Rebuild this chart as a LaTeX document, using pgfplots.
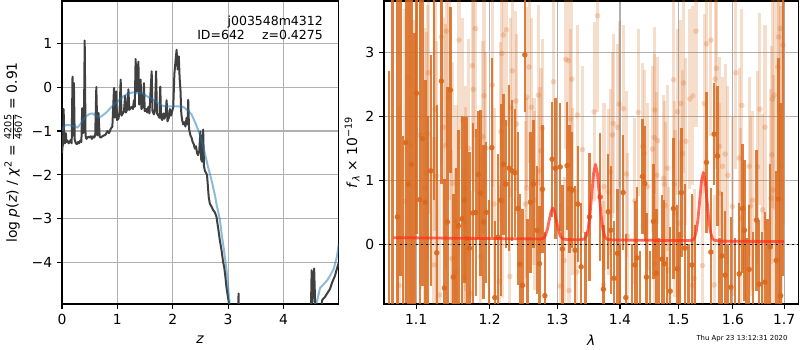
\documentclass[border=0pt]{standalone}
\usepackage{fontspec}
\setmainfont{DejaVu Sans}
\usepackage{pgfplots}
\pgfplotsset{compat=1.18}
\usepackage{pgfplotstable}
\definecolor{orC}{RGB}{216,104,28}
\definecolor{gridC}{RGB}{176,176,176}
\definecolor{pzC}{RGB}{64,64,64}
\definecolor{chiC}{RGB}{31,119,180}
\definecolor{modC}{RGB}{255,45,25}

\pgfplotstableread{
x y e
1.0650 -1.30 4.00
1.0700 4.20 5.50
1.0759 0.43 3.50
1.0800 4.50 5.00
1.0835 -1.50 3.20
1.0867 1.59 2.50
1.0900 0.94 3.00
1.0939 1.25 2.80
1.0980 -1.20 4.50
1.1005 2.36 2.20
1.1048 0.70 3.20
1.1082 1.65 2.30
1.1122 0.66 1.90
1.1160 -1.40 3.40
1.1193 1.15 1.80
1.1235 4.20 3.50
1.1273 -0.13 2.30
1.1334 2.55 1.60
1.1374 -0.68 1.70
1.1415 0.35 2.10
1.1455 2.41 1.30
1.1496 -0.51 1.30
1.1530 -1.30 2.50
1.1564 0.29 1.50
1.1611 0.40 1.60
1.1647 0.69 1.30
1.1680 0.09 1.90
1.1716 -0.06 1.50
1.1763 0.49 1.40
1.1805 0.50 1.30
1.1841 1.09 1.00
1.1869 0.80 1.30
1.1911 0.35 1.20
1.1950 0.50 1.10
1.1990 -1.20 1.90
1.2030 1.51 1.40
1.2073 -0.83 1.20
1.2116 0.11 1.30
1.2159 0.69 1.50
1.2197 1.25 1.10
1.2231 0.94 1.00
1.2279 1.19 1.30
1.2318 1.15 1.10
1.2362 1.12 1.00
1.2406 0.56 1.20
1.2436 -0.31 1.10
1.2474 -0.64 1.20
1.2509 2.96 0.90
1.2550 -1.10 1.50
1.2592 0.66 1.10
1.2637 0.94 1.00
1.2688 0.22 1.00
1.2727 -0.30 0.90
1.2772 0.86 1.00
1.2810 -0.80 1.00
1.2920 1.33 0.90
1.2970 1.19 1.10
1.3043 1.21 1.00
1.3078 -0.07 1.00
1.3151 1.23 1.00
1.3187 0.87 1.00
1.3229 0.85 0.90
1.3276 -0.09 1.00
1.3319 0.63 0.90
1.3371 -0.35 1.00
1.3440 -1.00 1.20
1.3503 0.43 1.00
1.3675 0.74 1.00
1.3728 -0.70 1.00
1.3805 0.51 0.90
1.3849 0.22 1.00
1.3903 -0.53 0.90
1.3957 -0.14 1.00
1.4000 -1.10 1.10
1.4052 0.81 0.90
1.4097 -0.83 1.00
1.4200 -1.20 1.20
1.4248 -0.32 1.00
1.4281 -0.21 1.10
1.4330 -1.10 1.00
1.4376 1.06 0.90
1.4417 0.95 0.90
1.4445 -0.51 1.00
1.4500 -1.20 1.10
1.4565 0.36 0.90
1.4616 -0.45 1.00
1.4660 -1.00 1.10
1.4710 -0.23 1.00
1.4750 -0.30 1.00
1.4800 -1.20 1.00
1.4855 -0.73 1.00
1.4913 0.56 1.10
1.4979 -0.38 1.00
1.5020 -1.00 1.20
1.5055 0.81 1.00
1.5116 -0.06 1.00
1.5180 -1.10 1.10
1.5241 -0.32 1.10
1.5300 -1.00 1.30
1.5507 1.28 1.10
1.5588 -0.12 1.00
1.5649 1.72 0.80
1.5710 1.38 1.10
1.5750 -1.10 1.20
1.5792 -0.18 1.00
1.5854 -0.48 1.00
1.5900 -1.20 1.20
1.5961 -0.67 1.10
1.6040 -1.10 1.20
1.6119 -0.46 1.10
1.6182 0.56 1.00
1.6220 0.22 1.10
1.6260 -1.10 1.20
1.6310 -0.39 1.00
1.6380 -1.00 1.20
1.6452 0.38 1.10
1.6504 -0.62 1.00
1.6560 -1.10 1.30
1.6616 -0.59 1.10
1.6670 -1.00 1.40
1.6721 -0.04 1.30
1.6840 -0.25 1.40
1.6886 0.71 2.20
1.6930 -0.80 3.00
1.6975 4.00 4.50
}\darkdata

\pgfplotstableread{
x y e
1.0781 -0.64 2.8
1.0858 0.67 3.0
1.0900 2.61 2.5
1.0931 1.54 2.8
1.0961 0.91 2.6
1.1056 1.71 2.4
1.1114 0.88 2.5
1.1135 1.11 2.2
1.1148 1.73 2.0
1.1161 2.68 2.2
1.1237 -0.32 2.0
1.1250 2.11 1.9
1.1273 1.07 2.1
1.1313 -0.79 1.8
1.1334 3.24 2.0
1.1361 1.83 1.7
1.1384 1.54 1.9
1.1401 3.33 1.8
1.1438 2.30 1.6
1.1476 -0.22 1.7
1.1483 0.95 1.9
1.1521 -0.43 1.6
1.1533 0.37 1.8
1.1574 3.19 1.7
1.1625 1.94 1.6
1.1640 -0.52 1.7
1.1657 0.34 1.8
1.1661 0.88 1.6
1.1708 1.50 1.7
1.1735 -0.77 1.6
1.1757 2.79 1.8
1.1770 2.42 1.6
1.1799 3.37 1.7
1.1869 -0.19 1.6
1.1907 1.68 1.5
1.1921 2.32 1.6
1.1945 1.50 1.5
1.2039 2.49 1.6
1.2063 0.63 1.5
1.2135 -0.58 1.5
1.2174 2.98 1.5
1.2160 1.76 1.4
1.2182 0.67 1.5
1.2197 3.27 1.4
1.2240 3.35 1.5
1.2304 2.14 1.4
1.2290 -0.50 1.4
1.2327 2.71 1.5
1.2377 2.24 1.4
1.2390 1.88 1.4
1.2515 0.63 1.3
1.2535 0.88 1.4
1.2539 2.30 1.4
1.2573 2.77 1.5
1.2607 2.14 1.4
1.2647 0.98 1.3
1.2658 0.69 1.4
1.2712 2.33 1.4
1.2736 1.15 1.3
1.2750 1.46 1.3
1.2772 1.81 1.4
1.2940 2.54 1.4
1.3043 -0.65 1.3
1.3105 -0.25 1.3
1.3131 2.89 1.4
1.3171 2.87 1.4
1.3180 -0.72 1.3
1.3203 1.96 1.4
1.3224 2.58 1.4
1.3232 0.83 1.3
1.3303 -0.43 1.3
1.3312 2.02 1.4
1.3391 1.48 1.3
1.3578 2.07 1.4
1.3631 3.57 1.5
1.3728 -0.63 1.3
1.3739 0.90 1.3
1.3805 0.82 1.3
1.3837 1.13 1.3
1.3875 1.71 1.3
1.3892 1.89 1.4
1.3957 1.83 1.3
1.3986 2.19 1.3
1.4057 2.12 1.3
1.4107 1.10 1.3
1.4123 0.13 1.3
1.4248 0.68 1.3
1.4308 2.06 1.3
1.4376 1.53 1.3
1.4405 1.42 1.3
1.4462 0.90 1.3
1.4548 1.49 1.3
1.4577 1.67 1.3
1.4590 -0.30 1.3
1.4585 2.10 1.3
1.4623 1.08 1.3
1.4634 1.62 1.3
1.4738 1.03 1.3
1.4750 0.94 1.3
1.4768 0.61 1.3
1.4808 1.19 1.3
1.4820 -0.40 1.3
1.4913 2.57 1.4
1.4926 0.94 1.3
1.4940 0.48 1.3
1.4984 2.07 1.3
1.5014 0.33 1.3
1.5044 2.20 1.3
1.5073 1.42 1.3
1.5091 2.52 1.4
1.5134 1.61 1.3
1.5205 2.27 1.4
1.5252 -0.64 1.4
1.5259 2.32 1.4
1.5283 -0.53 1.4
1.5314 3.33 1.5
1.5434 -0.33 1.4
1.5465 2.20 1.4
1.5507 3.13 1.5
1.5588 3.19 1.5
1.5649 -0.63 1.4
1.5667 2.58 1.4
1.5691 2.75 1.4
1.5742 1.53 1.4
1.5755 0.80 1.4
1.5803 1.22 1.4
1.5854 1.41 1.4
1.5904 1.08 1.4
1.5991 0.59 1.4
1.6056 2.68 1.5
1.6119 1.35 1.4
1.6151 0.41 1.4
1.6170 2.17 1.5
1.6310 1.22 1.4
1.6343 0.60 1.4
1.6374 0.69 1.4
1.6471 1.21 1.5
1.6518 2.11 1.5
1.6569 0.54 1.5
1.6616 1.83 1.6
1.6734 0.72 1.7
1.6766 2.27 1.7
1.6750 1.40 1.7
1.6780 0.85 1.8
1.6800 2.33 1.8
1.6874 2.77 2.0
1.6886 3.24 2.2
1.6920 3.37 2.5
1.6935 1.22 2.5
1.6980 3.11 2.8
}\lightdata

\pgfplotsset{
  mystyle/.style={
    scale only axis, height=303pt, anchor=south west,
    tick align=outside, xtick pos=bottom, ytick pos=left,
    major tick length=4.9pt,
    tick style={black, line width=1.1pt},
    grid=major, grid style={gridC, line width=1.1pt},
    axis line style={line width=1.1pt},
    tick label style={font=\fontsize{13.9}{16}\selectfont},
    xticklabel style={inner sep=0pt, yshift=-4.8pt},
    yticklabel style={inner sep=0pt, xshift=-4.8pt},
    /pgf/number format/assume math mode=true,
    clip marker paths=true,
    label style={font=\fontsize{13.9}{16}\selectfont},
  }
}

\begin{document}
\begin{tikzpicture}
\path[use as bounding box] (0,0) rectangle (800pt,350pt);

\begin{axis}[mystyle, at={(62pt,46pt)}, width=276.5pt,
  xmin=0, xmax=4.995, ymin=-4.94, ymax=1.96,
  xtick={0,1,2,3,4}, xticklabels={0,1,2,3,4},
  ytick={-4,-3,-2,-1,0,1}, yticklabels={−4,−3,−2,−1,0,1},
  unbounded coords=jump,
  xlabel={\textit{z}},
  xlabel style={at={(axis description cs:0.5,-0.119)}, anchor=center},
  ylabel={log \textit{p}(\textit{z}) / \textit{χ}\textsuperscript{2} = \ensuremath{\frac{\hbox{\fontsize{9.7}{10}\selectfont 4205}}{\hbox{\fontsize{9.7}{10}\selectfont 4607}}} = 0.91},
  ylabel style={at={(axis description cs:-0.177,0.5)}, anchor=center},
]
\addplot[pzC, line width=2pt, line join=round] coordinates {
(0.000,-1.50) (0.010,-1.35) (0.020,-1.30) (0.030,-0.50) (0.040,-1.25) (0.055,-1.28)
(0.070,-1.05) (0.080,-1.25) (0.100,-1.22) (0.120,-1.28) (0.140,-1.25) (0.160,-1.20)
(0.175,-1.28) (0.190,0.24) (0.205,-1.10) (0.215,0.09) (0.230,-1.20) (0.250,-1.28)
(0.270,-1.30) (0.290,-1.25) (0.310,-1.28) (0.330,-1.22) (0.350,-1.25) (0.365,-0.48)
(0.380,-1.05) (0.395,-1.00) (0.410,1.06) (0.425,-1.10) (0.440,-1.18) (0.460,-1.15)
(0.480,-1.13) (0.500,-1.15) (0.520,-1.12) (0.540,-1.18) (0.560,-1.12) (0.580,-1.15)
(0.600,-1.10) (0.620,0.00) (0.640,-1.10) (0.660,-0.59) (0.680,-1.13) (0.700,-1.15)
(0.730,-1.12) (0.760,-1.10) (0.790,-1.08) (0.820,-1.00) (0.850,-1.05) (0.880,-0.95)
(0.910,-0.90) (0.925,-0.45) (0.940,-0.02) (0.955,-0.70) (0.980,-0.10) (0.995,-0.75)
(1.020,-0.72) (1.040,-0.55) (1.060,0.17) (1.075,-0.65) (1.100,-0.60) (1.120,-0.55)
(1.140,-0.20) (1.155,-0.58) (1.180,-0.50) (1.200,-0.05) (1.215,-0.52) (1.240,-0.48)
(1.260,-0.45) (1.280,-0.50) (1.300,-0.30) (1.315,-0.45) (1.330,0.64) (1.350,-0.10)
(1.380,0.58) (1.395,-0.40) (1.420,0.17) (1.435,-0.50) (1.460,-0.45) (1.480,0.09)
(1.495,-0.55) (1.520,-0.50) (1.540,-0.58) (1.560,-0.45) (1.580,-0.60) (1.600,-0.10)
(1.620,0.36) (1.635,-0.55) (1.660,-0.62) (1.680,-0.50) (1.700,0.36) (1.715,-0.60)
(1.740,-0.65) (1.760,-0.70) (1.775,0.01) (1.790,-0.70) (1.810,-0.75) (1.830,-0.60)
(1.850,-0.72) (1.870,-0.65) (1.890,-0.30) (1.905,-0.78) (1.930,-0.70) (1.950,-0.50)
(1.970,-0.65) (1.990,-0.55) (2.010,-0.45) (2.030,0.30) (2.045,0.51) (2.070,0.85)
(2.090,0.40) (2.110,0.70) (2.125,0.20) (2.140,-0.06) (2.155,-0.60) (2.170,-0.75)
(2.190,-0.85) (2.210,-0.80) (2.230,-0.90) (2.250,-0.70) (2.270,-0.85) (2.280,-0.29)
(2.295,-0.95) (2.320,-1.10) (2.340,-1.15) (2.360,-1.25) (2.380,-1.30) (2.400,-1.40)
(2.420,-1.35) (2.440,-1.50) (2.460,-1.55) (2.480,-1.45) (2.500,-1.01) (2.515,-1.65)
(2.530,-1.70) (2.550,-0.97) (2.565,-1.80) (2.580,-1.90) (2.600,-1.95) (2.620,-2.00)
(2.650,-2.50) (2.670,-2.65) (2.700,-2.72) (2.730,-2.80) (2.760,-2.85) (2.790,-2.95)
(2.820,-3.20) (2.850,-3.48) (2.880,-3.70) (2.910,-3.98) (2.930,-4.10) (2.950,-4.30)
(2.970,-4.55) (3.000,-4.80) (3.020,-4.95) (3.040,-5.50)
(3.100,nan)
(3.170,-5.50) (3.190,-4.70) (3.200,-5.50)
(3.300,nan)
(4.490,-5.50) (4.510,-4.17) (4.525,-4.90) (4.540,-4.50) (4.555,-4.13) (4.570,-4.80)
(4.585,-5.50)
(4.620,nan)
(4.640,-5.50) (4.700,-4.85) (4.750,-4.78) (4.800,-4.68) (4.840,-4.60) (4.880,-4.45)
(4.930,-4.30) (4.970,-4.12) (5.000,-4.00)
};
\addplot[chiC, opacity=0.5, line width=2pt] coordinates {
(0.00,-1.01) (0.03,-0.90) (0.08,-0.86) (0.15,-0.87) (0.22,-0.90) (0.28,-0.92)
(0.33,-0.85) (0.38,-0.75) (0.44,-0.66) (0.50,-0.61) (0.55,-0.60) (0.62,-0.66)
(0.68,-0.69) (0.74,-0.64) (0.80,-0.58) (0.88,-0.47) (0.98,-0.35) (1.07,-0.25)
(1.16,-0.17) (1.22,-0.14) (1.29,-0.12) (1.36,-0.14) (1.42,-0.14) (1.47,-0.16)
(1.55,-0.22) (1.65,-0.29) (1.73,-0.36) (1.80,-0.42) (1.90,-0.44) (2.01,-0.44)
(2.10,-0.44) (2.19,-0.45) (2.26,-0.52) (2.34,-0.62) (2.42,-0.85) (2.49,-1.08)
(2.54,-1.30) (2.58,-1.50) (2.63,-1.78) (2.67,-1.97) (2.72,-2.22) (2.76,-2.45)
(2.80,-2.72) (2.85,-3.00) (2.89,-3.40) (2.93,-3.75) (2.97,-4.15) (3.00,-4.55)
(3.03,-4.95) (3.05,-5.30)
(3.50,nan)
(4.55,-5.30) (4.60,-4.92) (4.66,-4.58) (4.72,-4.50) (4.79,-4.40) (4.85,-4.28)
(4.91,-4.13) (4.96,-3.90) (5.00,-3.58)
};
\node[anchor=north east, align=right, inner sep=0pt, font=\fontsize{12.5}{14.2}\selectfont]
  at (axis description cs:0.944,0.952) {j003548m4312\\ID=642\hspace{1.05em} z=0.4275};
\end{axis}

\begin{axis}[mystyle, at={(384pt,46pt)}, width=414.5pt,
  xmode=log, log basis x=10,
  xmin=1.0591, xmax=1.729, ymin=-0.93, ymax=3.80,
  xtick={1.1,1.2,1.3,1.4,1.5,1.6,1.7}, xticklabels={1.1,1.2,1.3,1.4,1.5,1.6,1.7},
  minor xtick={},
  ytick={0,1,2,3}, yticklabels={0,1,2,3},
  xlabel={\textit{λ}},
  xlabel style={at={(axis description cs:0.5,-0.119)}, anchor=center},
  ylabel={\textit{f}\textsubscript{\textit{λ}} × 10\textsuperscript{−19}},
  ylabel style={at={(axis description cs:-0.077,0.5)}, anchor=center},
]
\addplot[orC, only marks, mark=*, mark size=2.8pt,
  mark options={solid, fill=orC, draw opacity=0, fill opacity=0.25},
  error bars/.cd, y dir=both, y explicit, error mark=none,
  error bar style={draw=orC, line width=3.2pt, opacity=0.22}]
  table[x=x, y=y, y error=e] {\lightdata};
\addplot[orC, only marks, mark=*, mark size=2.8pt,
  mark options={solid, fill=orC, draw opacity=0, fill opacity=0.9},
  error bars/.cd, y dir=both, y explicit, error mark=none,
  error bar style={draw=orC, line width=2.4pt, opacity=0.85}]
  table[x=x, y=y, y error=e] {\darkdata};
\addplot[modC, opacity=0.7, line width=2.8pt, line join=round] coordinates {
(1.0709,0.105) (1.1000,0.102) (1.1500,0.097) (1.2000,0.092) (1.2500,0.087)
(1.2765,0.085) (1.2793,0.101) (1.2820,0.146) (1.2848,0.239) (1.2875,0.377)
(1.2903,0.512) (1.2930,0.570) (1.2958,0.512) (1.2985,0.377) (1.3013,0.239)
(1.3040,0.146) (1.3068,0.101) (1.3095,0.085) (1.3150,0.075) (1.3350,0.073)
(1.3420,0.083) (1.3450,0.122) (1.3480,0.230) (1.3510,0.453) (1.3540,0.786)
(1.3570,1.111) (1.3600,1.250) (1.3630,1.111) (1.3660,0.786) (1.3690,0.453)
(1.3720,0.230) (1.3750,0.122) (1.3780,0.083) (1.3850,0.070) (1.4500,0.064)
(1.5200,0.060) (1.5255,0.067) (1.5288,0.102) (1.5320,0.200) (1.5353,0.402)
(1.5385,0.704) (1.5418,0.999) (1.5450,1.125) (1.5483,0.999) (1.5515,0.704)
(1.5548,0.402) (1.5580,0.200) (1.5613,0.102) (1.5645,0.067) (1.5750,0.052)
(1.6300,0.048) (1.7000,0.044)
};
\addplot[black, line width=1.6pt, dash pattern=on 1.8pt off 3.5pt] coordinates {(1.0591,0) (1.729,0)};
\end{axis}

\node[font=\fontsize{6.9}{8}\selectfont, anchor=center] at (742pt,11pt) {Thu Apr 23 13:12:31 2020};
\end{tikzpicture}
\end{document}
